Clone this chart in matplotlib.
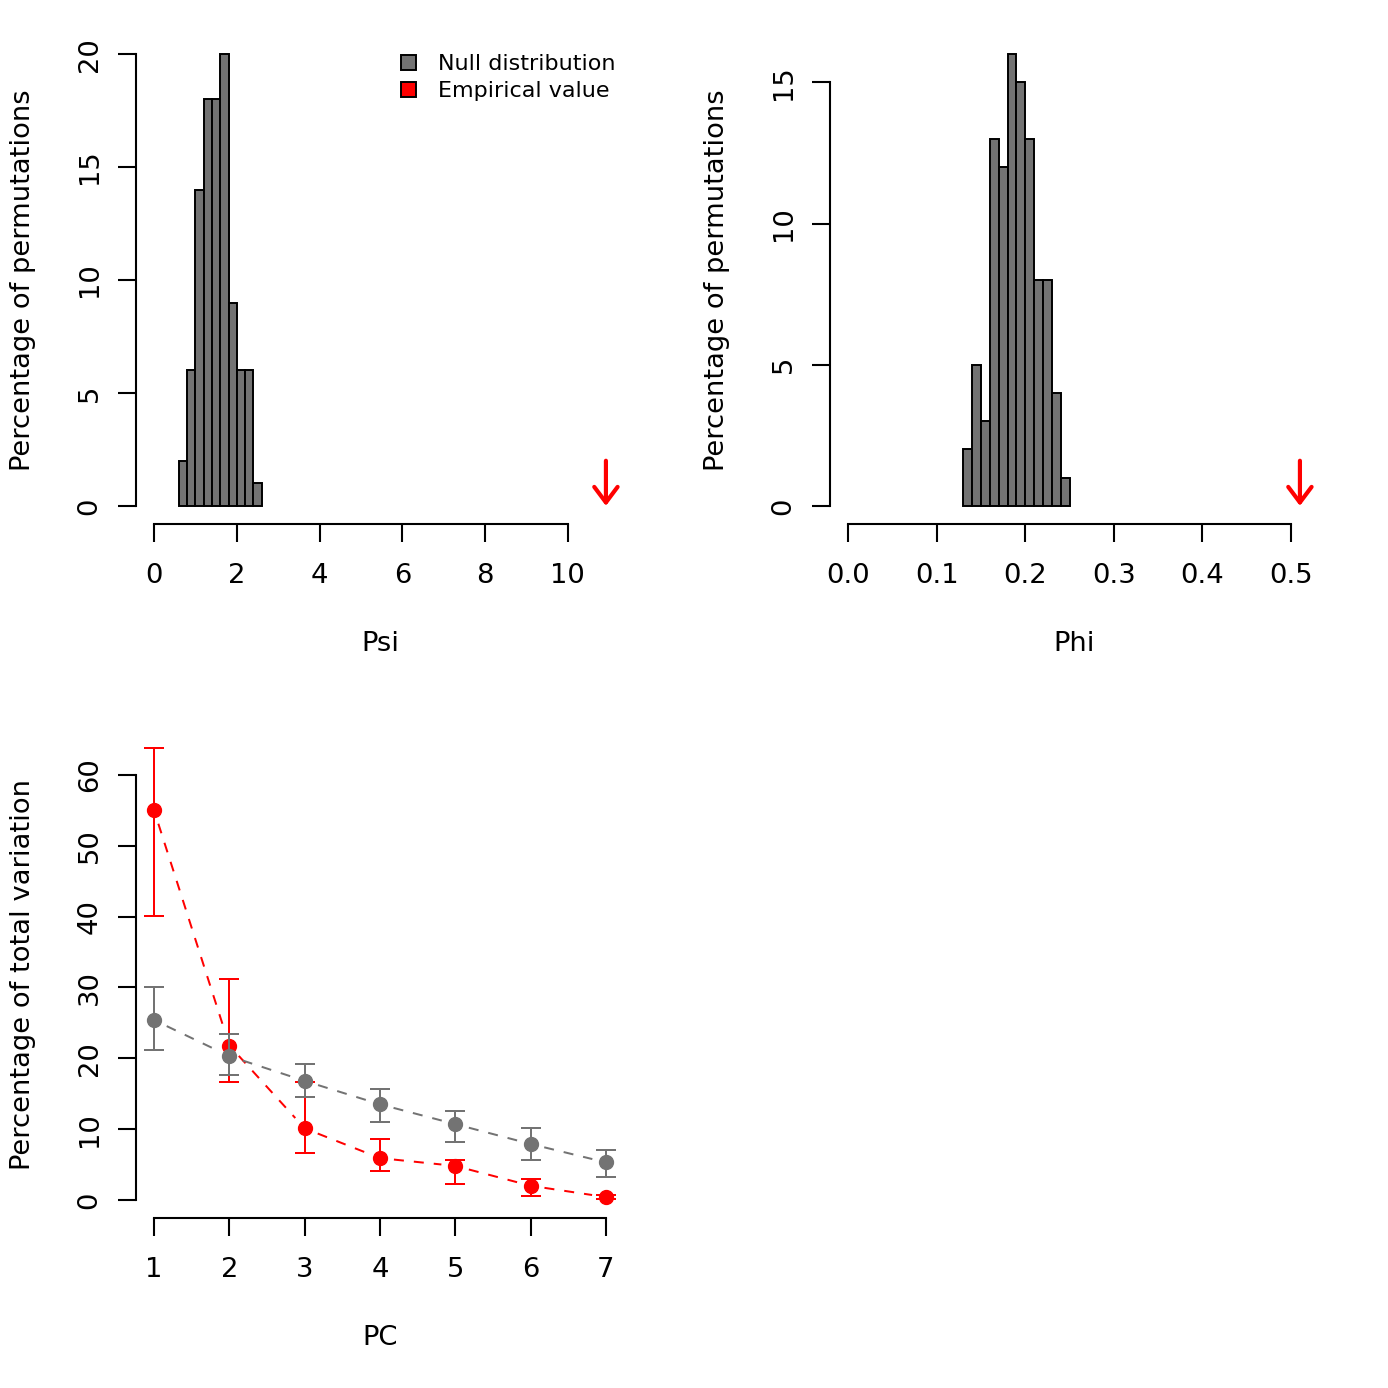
import numpy as np
import matplotlib
matplotlib.use('Agg')
import matplotlib.pyplot as plt
from matplotlib.patches import Patch
from matplotlib.collections import LineCollection
from matplotlib.ticker import FormatStrFormatter

# histograma de Psi (percentagem de permutacoes por classe)
psi_bin_left = [0.6, 0.8, 1.0, 1.2, 1.4, 1.6, 1.8, 2.0, 2.2, 2.4]
psi_counts = [2, 6, 14, 18, 18, 20, 9, 6, 6, 1]
psi_bin_width = 0.2
psi_empirical = 10.92
psi_xticks = [0, 2, 4, 6, 8, 10]
psi_yticks = [0, 5, 10, 15, 20]

# histograma de Phi
phi_bin_left = [0.13, 0.14, 0.15, 0.16, 0.17, 0.18, 0.19, 0.20, 0.21, 0.22, 0.23, 0.24]
phi_counts = [2, 5, 3, 13, 12, 16, 15, 13, 8, 8, 4, 1]
phi_bin_width = 0.01
phi_empirical = 0.51
phi_xticks = [0.0, 0.1, 0.2, 0.3, 0.4, 0.5]
phi_yticks = [0, 5, 10, 15]

# variacao por PC
pcs = [1, 2, 3, 4, 5, 6, 7]
null_mean = [25.4, 20.3, 16.8, 13.5, 10.7, 7.9, 5.3]
null_low = [21.2, 17.6, 14.5, 11.0, 8.2, 5.7, 3.3]
null_high = [30.1, 23.4, 19.2, 15.7, 12.5, 10.2, 7.0]
emp_mean = [55.0, 21.8, 10.1, 5.9, 4.8, 2.0, 0.4]
emp_low = [40.1, 16.7, 6.6, 4.1, 2.2, 0.6, 0.1]
emp_high = [63.8, 31.2, 16.7, 8.6, 5.7, 2.9, 0.7]
pc_yticks = [0, 10, 20, 30, 40, 50, 60]

CINZA = '#737373'
VERMELHO = '#ff0000'
FS = 19.7
LW = 1.5


def expandir(lo, hi):
    d = 0.04 * (hi - lo)
    return lo - d, hi + d


def estilo_r(ax, xticks, yticks):
    for s in ['top', 'right']:
        ax.spines[s].set_visible(False)
    for s in ['left', 'bottom']:
        ax.spines[s].set_linewidth(LW)
    ax.spines['left'].set_bounds(yticks[0], yticks[-1])
    ax.spines['bottom'].set_bounds(xticks[0], xticks[-1])
    ax.set_xticks(xticks)
    ax.set_yticks(yticks)
    ax.tick_params(length=13, width=LW, labelsize=FS, direction='out')
    ax.tick_params(axis='x', pad=15)
    ax.tick_params(axis='y', pad=11, labelrotation=90)
    for lab in ax.get_yticklabels():
        lab.set_verticalalignment('center')


def rotulos(ax, xlabel, ylabel):
    ax.set_xlabel(xlabel, fontsize=FS)
    ax.set_ylabel(ylabel, fontsize=FS)
    ax.xaxis.set_label_coords(0.5, -0.246)
    ax.xaxis.label.set_verticalalignment('center')
    ax.yaxis.set_label_coords(-0.2310, 0.5)
    ax.yaxis.label.set_verticalalignment('center')


def histograma(ax, left, counts, width, empirical, xticks, yticks, xlabel):
    ax.bar(left, counts, width=width, align='edge', color=CINZA,
           edgecolor='black', linewidth=1.4)
    ax.set_xlim(*expandir(0, empirical))
    ax.set_ylim(*expandir(0, max(counts)))
    ax.annotate('', xy=(empirical, 0), xytext=(empirical, 0.1 * max(counts)),
                arrowprops=dict(arrowstyle='->,head_length=0.56,head_width=0.42',
                                color=VERMELHO, lw=3.0, shrinkA=0, shrinkB=0,
                                mutation_scale=20))
    estilo_r(ax, xticks, yticks)
    rotulos(ax, xlabel, 'Percentage of permutations')


def linha_com_gap(ax, xs, ys, gap, cor):
    # imita o type="b" do R: segmentos tracejados que param antes dos pontos
    pts = ax.transData.transform(np.column_stack([xs, ys]))
    inv = ax.transData.inverted()
    segs = []
    for p0, p1 in zip(pts[:-1], pts[1:]):
        d = p1 - p0
        L = np.hypot(d[0], d[1])
        if L <= 2 * gap:
            continue
        u = d / L
        segs.append(inv.transform([p0 + u * gap, p1 - u * gap]))
    lc = LineCollection(segs, colors=cor, linewidths=1.44, linestyles=(0, (5, 5)))
    ax.add_collection(lc)


def serie(ax, xs, mean, low, high, cor, z):
    mean = np.array(mean)
    yerr = [mean - np.array(low), np.array(high) - mean]
    ax.errorbar(xs, mean, yerr=yerr, fmt='none', ecolor=cor, elinewidth=1.44,
                capsize=7.5, capthick=1.44, zorder=z)
    ax.plot(xs, mean, 'o', color=cor, markersize=10, zorder=z + 0.5)
    linha_com_gap(ax, xs, mean, 14, cor)


fig = plt.figure(figsize=(13.88, 13.88), dpi=100)
fig.patch.set_facecolor('white')
w = 488 / 1388
ax1 = fig.add_axes([136 / 1388, (1388 - 524) / 1388, w, w])
ax2 = fig.add_axes([830 / 1388, (1388 - 524) / 1388, w, w])
ax3 = fig.add_axes([136 / 1388, (1388 - 1218) / 1388, w, w])

histograma(ax1, psi_bin_left, psi_counts, psi_bin_width, psi_empirical,
           psi_xticks, psi_yticks, 'Psi')
ax1.legend(handles=[Patch(facecolor=CINZA, edgecolor='black', lw=1.4, label='Null distribution'),
                    Patch(facecolor=VERMELHO, edgecolor='black', lw=1.4, label='Empirical value')],
           loc='upper left', bbox_to_anchor=(0.543, 0.963), frameon=False,
           fontsize=16, handlelength=0.68, handleheight=0.68, handletextpad=1.0,
           borderpad=0, borderaxespad=0, labelspacing=0.315)

histograma(ax2, phi_bin_left, phi_counts, phi_bin_width, phi_empirical,
           phi_xticks, phi_yticks, 'Phi')
ax2.xaxis.set_major_formatter(FormatStrFormatter('%.1f'))

ax3.set_xlim(*expandir(min(pcs), max(pcs)))
ax3.set_ylim(*expandir(min(0, min(emp_low), min(null_low)), max(max(emp_high), max(null_high))))
serie(ax3, pcs, emp_mean, emp_low, emp_high, VERMELHO, 2)
serie(ax3, pcs, null_mean, null_low, null_high, CINZA, 3)
estilo_r(ax3, pcs, pc_yticks)
rotulos(ax3, 'PC', 'Percentage of total variation')

fig.savefig('out.png', dpi=100, facecolor='white')
